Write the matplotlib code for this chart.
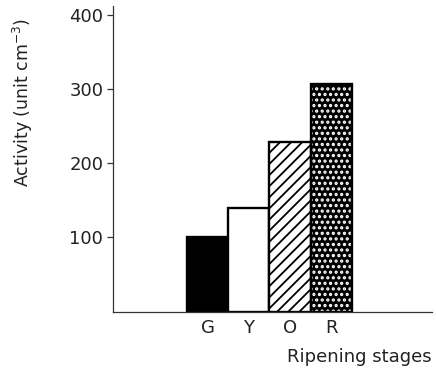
import matplotlib
matplotlib.use("Agg")
import matplotlib.pyplot as plt

# Enzyme activity at each ripening stage
stages = ["G", "Y", "O", "R"]
activity = [100, 140, 228, 307]

y_ticks = [100, 200, 300, 400]

plt.rcParams["font.family"] = ["DejaVu Sans"]

fig = plt.figure(figsize=(4.36, 3.75), dpi=100)
ax = fig.add_axes([0.259, 0.169, 0.732, 0.815])

x = list(range(len(stages)))

# per-bar fill styles: solid, open, hatched, dotted
face = ["black", "white", "white", "black"]
hatch_col = ["black", "black", "black", "white"]
hatches = [None, None, "///", "..."]
hatch_lw = [1.0, 1.0, 1.3, 1.55]

for xi, val, fc, hc, h, hl in zip(x, activity, face, hatch_col, hatches, hatch_lw):
    with plt.rc_context({"hatch.linewidth": hl}):
        b = ax.bar(xi, val, width=1.0, color=fc, edgecolor=hc, hatch=h, linewidth=0)
    for p in b:
        if hasattr(p, "set_hatch_linewidth"):
            p.set_hatch_linewidth(hl)
    ax.bar(xi, val, width=1.0, fill=False, edgecolor="black", linewidth=1.7)

ax.set_xlim(-2.3, 5.45)
ax.set_ylim(0, 412)

ax.set_xticks(x)
ax.set_xticklabels(stages, fontsize=13, color="#222222")
ax.tick_params(axis="x", length=0, pad=5)

ax.set_yticks(y_ticks)
ax.set_yticklabels([str(v) for v in y_ticks], fontsize=13, color="#222222")
ax.tick_params(axis="y", direction="out", length=4, width=0.9, pad=3, color="#333333")

for side in ["top", "right"]:
    ax.spines[side].set_visible(False)
for side in ["left", "bottom"]:
    ax.spines[side].set_linewidth(0.9)
    ax.spines[side].set_color("#333333")

ax.set_ylabel("Activity (unit cm$^{-3}$)", fontsize=12.5, color="#222222")
ax.yaxis.set_label_coords(-0.245, 0.684)
ax.set_xlabel("Ripening stages", fontsize=13, color="#222222")
ax.xaxis.set_label_coords(1.0, -0.12)
ax.xaxis.label.set_horizontalalignment("right")

fig.savefig("out.png", dpi=100, facecolor="white")
